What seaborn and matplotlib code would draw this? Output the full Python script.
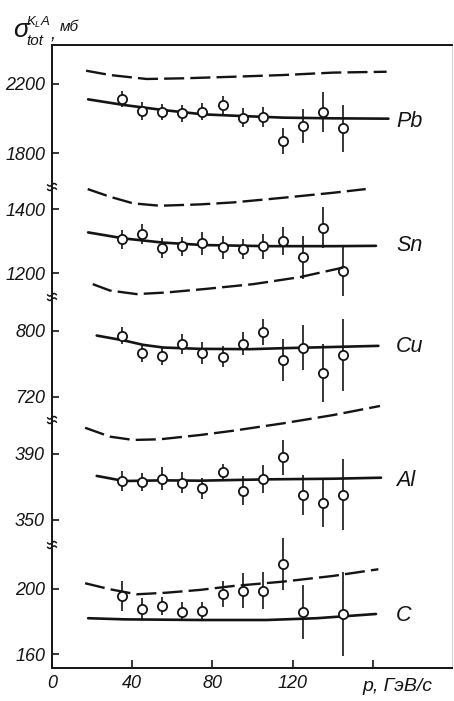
import numpy as np
import matplotlib
matplotlib.use("Agg")
import matplotlib.pyplot as plt
import matplotlib.transforms as mtransforms
import seaborn as sns

# ---- measured total cross sections (mb) vs beam momentum p (GeV/c) ----
p_pts = [35, 45, 55, 65, 75, 85, 95, 105, 115, 125, 135, 145]
p_pts_c = [35, 45, 55, 65, 75, 85, 95, 105, 115, 125, 145]

pb_sigma = [2113, 2043, 2039, 2030, 2039, 2076, 2005, 2007, 1871, 1956, 2038, 1943]
pb_err = [48, 52, 46, 50, 48, 52, 55, 58, 75, 97, 116, 136]

sn_sigma = [1306, 1321, 1279, 1284, 1293, 1280, 1275, 1284, 1300, 1249, 1342, 1205]
sn_err = [30, 31, 32, 30, 36, 36, 30, 39, 44, 67, 65, 77]

cu_sigma = [794.3, 773, 769.7, 783.9, 773, 768.8, 784.2, 798.4, 764.8, 779.8, 748.7, 770.9]
cu_err = [10.5, 11, 10.5, 12, 13, 12.5, 14, 15.5, 25, 27, 35, 44]

al_sigma = [373.6, 373, 375, 372.6, 369.2, 378.9, 367.8, 374.8, 388, 365.2, 360.5, 365.2]
al_err = [6, 5.5, 7, 6.5, 6.5, 5, 9, 8.5, 10.5, 12, 15, 21.5]

c_sigma = [195.7, 187.7, 189.5, 186, 186.6, 196.9, 199, 199, 215.4, 185.7, 184.6]
c_err = [9, 6.5, 5.5, 6, 5.5, 8, 11, 11.5, 16, 16.5, 26]

# ---- model curves: solid (fit) and dashed (alternative calculation) ----
pb_fit_p = [18, 36, 55.5, 75.4, 95.4, 115.3, 140.2, 167.7]
pb_fit_s = [2111, 2078, 2049, 2024, 2014, 2005, 2001, 1999]
pb_alt_p = [17, 28.9, 47.2, 65.5, 90.4, 115.3, 140.2, 166.8]
pb_alt_s = [2277, 2252, 2229, 2233, 2242, 2252, 2266, 2271]

sn_fit_p = [18, 36, 55.5, 75.4, 107, 140.2, 161.5]
sn_fit_s = [1327, 1308, 1295, 1287.5, 1284, 1284, 1285]
sn_alt_p = [17.8, 28.9, 40.5, 53.8, 73.8, 90.4, 115.3, 140.2, 156.4]
sn_alt_s = [1462.5, 1438.5, 1417.7, 1410.4, 1414.6, 1420.8, 1435.4, 1451, 1462.5]

cu_fit_p = [22.3, 36, 45.5, 55.5, 73.8, 98.7, 115.3, 162.7]
cu_fit_s = [794.3, 788.3, 783, 779.8, 778.2, 777.8, 779, 781.8]
cu_alt_p = [20.3, 28.9, 42.2, 57.2, 77.1, 100.4, 123.6, 145.2]
cu_alt_s = [856.6, 848.8, 844.5, 846.5, 850.9, 856.6, 865.1, 876.7]

al_fit_p = [22.3, 36, 55.5, 73.8, 107, 140.2, 164]
al_fit_s = [376.7, 373.6, 374, 373.8, 374.6, 375, 375.6]
al_alt_p = [16.5, 28.9, 40.5, 53.8, 73.8, 90.4, 115.3, 140.2, 163.5]
al_alt_s = [405.9, 400.5, 398.5, 398.9, 401.5, 404.1, 408.6, 413.6, 419.1]

c_fit_p = [18, 36, 73.8, 107, 132, 161.5]
c_fit_s = [182, 181.3, 180.9, 180.9, 182, 184.6]
c_alt_p = [16.5, 28.9, 42.2, 57.2, 73.8, 90.4, 115.3, 140.2, 162.7]
c_alt_s = [203.5, 199.8, 196.7, 197.7, 199.4, 201.8, 204.5, 208, 212.1]

nuclei = ["Pb", "Sn", "Cu", "Al", "C"]
y_ticks = [[1800, 2200], [1200, 1400], [720, 800], [350, 390], [160, 200]]
y_limits = [(1603, 2426), (1125, 1469), (692, 841), (334.8, 410.6), (151.4, 227)]
label_y = [1980, 1287, 781, 374.2, 183.4]
x_ticks = [0, 40, 80, 120, 160]
x_ticklabels = ["0", "40", "80", "120", ""]

sns.set_style("white")
plt.rcParams["font.family"] = ["Liberation Sans", "DejaVu Sans"]
plt.rcParams["font.style"] = "italic"
plt.rcParams["mathtext.fontset"] = "custom"
plt.rcParams["mathtext.rm"] = "Liberation Sans:italic"
plt.rcParams["mathtext.it"] = "Liberation Sans:italic"

INK = "#141414"
W, H = 454, 701
fig = plt.figure(figsize=(W / 100, H / 100), dpi=100)
gs = fig.add_gridspec(
    5, 1, height_ratios=[142, 110, 123, 125, 123], hspace=0,
    left=52 / W, right=452 / W, bottom=1 - 668 / H, top=1 - 45 / H,
)
axes = [fig.add_subplot(gs[i, 0]) for i in range(5)]

panels = [
    (p_pts, pb_sigma, pb_err, pb_fit_p, pb_fit_s, pb_alt_p, pb_alt_s),
    (p_pts, sn_sigma, sn_err, sn_fit_p, sn_fit_s, sn_alt_p, sn_alt_s),
    (p_pts, cu_sigma, cu_err, cu_fit_p, cu_fit_s, cu_alt_p, cu_alt_s),
    (p_pts, al_sigma, al_err, al_fit_p, al_fit_s, al_alt_p, al_alt_s),
    (p_pts_c, c_sigma, c_err, c_fit_p, c_fit_s, c_alt_p, c_alt_s),
]

for i, (ax, data) in enumerate(zip(axes, panels)):
    px, sy, se, fp, fs, ap, as_ = data
    sns.lineplot(x=fp, y=fs, ax=ax, color=INK, lw=1.9, sort=False,
                 estimator=None, clip_on=False, zorder=2)
    sns.lineplot(x=ap, y=as_, ax=ax, color=INK, lw=1.7, sort=False,
                 estimator=None, linestyle=(0, (8.5, 2.6)), clip_on=False,
                 zorder=2)
    ax.errorbar(px, sy, yerr=se, fmt="none", ecolor=INK, elinewidth=1.2,
                capsize=0, zorder=3, clip_on=False)
    sns.scatterplot(x=px, y=sy, ax=ax, marker="o", s=44, facecolor="white",
                    edgecolor=INK, linewidth=1.3, zorder=4, clip_on=False)

    ax.set_xlim(0, 199.4)
    ax.set_ylim(*y_limits[i])
    ax.set_yticks(y_ticks[i])
    ax.set_yticklabels([str(t) for t in y_ticks[i]])
    ax.set_xlabel("")
    ax.set_ylabel("")
    ax.tick_params(axis="y", direction="in", length=5, width=1.2,
                   color=INK, labelsize=13, labelcolor=INK, pad=5, left=True)
    ax.text(171.5, label_y[i], nuclei[i], fontsize=15.5,
            color=INK, ha="left", va="center", style="italic")

    for side in ("top", "bottom", "left", "right"):
        ax.spines[side].set_color(INK)
        ax.spines[side].set_linewidth(1.4)
    ax.spines["right"].set_color("#d4d4d4")
    ax.spines["right"].set_linewidth(0.8)
    if i != 0:
        ax.spines["top"].set_visible(False)
    if i != 4:
        ax.spines["bottom"].set_visible(False)
        ax.tick_params(axis="x", bottom=False, labelbottom=False)
    else:
        ax.set_xticks(x_ticks)
        ax.set_xticklabels(x_ticklabels)
        ax.tick_params(axis="x", direction="in", length=6, width=1.2,
                       color=INK, labelsize=13, labelcolor=INK, pad=5,
                       bottom=True)
        ax.annotate("p, ГэВ/с", xy=(155, 0), xycoords=("data", "axes fraction"),
                    xytext=(0, -7), textcoords="offset points",
                    ha="left", va="top", fontsize=14, color=INK)

# axis break marks (two small waves) on the left spine between panels
t = np.linspace(-1, 1, 20)
for ax in axes[1:]:
    corner = ax.transAxes.transform((0, 1))
    trans = fig.dpi_scale_trans + mtransforms.Affine2D().translate(*corner)
    for dy in (-2.2, 2.2):
        xs = t * 4.5 / 100
        ys = (dy + 1.3 * np.sin(np.pi * t)) / 100
        fig.add_artist(plt.Line2D(xs, ys, color=INK, lw=1.1, clip_on=False,
                                  transform=trans))

# y-axis title, assembled piece by piece
fig.text(13 / W, 1 - 37 / H, "σ", fontsize=19, color=INK, ha="left",
         va="baseline")
fig.text(26 / W, 1 - 45 / H, "tot", fontsize=11, color=INK, ha="left",
         va="baseline")
fig.text(26 / W, 1 - 26 / H, r"$K_L A$", fontsize=9.5, color=INK, ha="left",
         va="baseline")
fig.text(51 / W, 1 - 40 / H, ",", fontsize=13, color=INK, ha="left",
         va="baseline")
fig.text(60 / W, 1 - 31 / H, "мб", fontsize=11, color=INK, ha="left",
         va="baseline")

fig.savefig("out.png", dpi=100, facecolor="white")
